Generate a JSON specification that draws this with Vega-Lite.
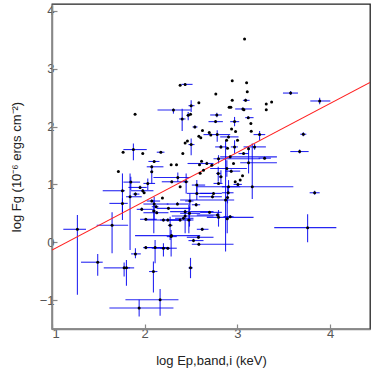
{
  "$schema": "https://vega.github.io/schema/vega-lite/v6.json",
  "width": 318,
  "height": 325,
  "autosize": {"type": "none"},
  "padding": {"left": 52, "top": 4, "right": 4, "bottom": 45},
  "background": "white",
  "config": {
    "view": {"stroke": "#222", "strokeWidth": 1.3},
    "axis": {
      "grid": false,
      "domainColor": "#888",
      "domainWidth": 1.5,
      "tickColor": "#888",
      "tickWidth": 1.2,
      "tickSize": -5,
      "format": "d",
      "labelFont": "Liberation Sans",
      "labelFontSize": 13,
      "labelColor": "#555",
      "labelPadding": 3,
      "titleFont": "Liberation Sans",
      "titleFontSize": 13,
      "titleFontWeight": "normal",
      "titleColor": "#222"
    }
  },
  "datasets": {
    "err": [
      {"x":1.274,"y":0.224,"xlo":1.122,"xhi":1.367,"ylo":-0.908,"yhi":0.471},
      {"x":1.493,"y":-0.345,"xlo":1.313,"xhi":1.547,"ylo":-0.58,"yhi":-0.201},
      {"x":1.648,"y":0.293,"xlo":1.482,"xhi":1.821,"ylo":-0.19,"yhi":0.517},
      {"x":1.778,"y":-0.443,"xlo":1.558,"xhi":1.886,"ylo":-0.592,"yhi":-0.351},
      {"x":1.803,"y":-0.443,"xlo":1.77,"xhi":1.842,"ylo":-0.753,"yhi":-0.305},
      {"x":1.9,"y":-0.201,"xlo":1.853,"xhi":1.958,"ylo":-0.276,"yhi":-0.103},
      {"x":2.094,"y":-0.506,"xlo":2.047,"xhi":2.137,"ylo":-0.868,"yhi":-0.333},
      {"x":1.94,"y":-1.138,"xlo":1.619,"xhi":2.31,"ylo":-1.282,"yhi":-0.994},
      {"x":2.166,"y":-0.994,"xlo":1.792,"xhi":2.364,"ylo":-1.27,"yhi":-0.81},
      {"x":2.494,"y":-0.443,"xlo":2.472,"xhi":2.519,"ylo":-0.621,"yhi":-0.27},
      {"x":3.757,"y":0.253,"xlo":3.397,"xhi":4.067,"ylo":0.0,"yhi":0.483},
      {"x":3.833,"y":0.856,"xlo":3.779,"xhi":3.887,"ylo":0.822,"yhi":0.891},
      {"x":3.574,"y":2.58,"xlo":3.491,"xhi":3.653,"ylo":2.546,"yhi":2.615},
      {"x":3.887,"y":2.443,"xlo":3.786,"xhi":4.002,"ylo":2.385,"yhi":2.5},
      {"x":3.711,"y":1.868,"xlo":3.678,"xhi":3.743,"ylo":1.834,"yhi":1.902},
      {"x":3.671,"y":1.569,"xlo":3.57,"xhi":3.768,"ylo":1.534,"yhi":1.603},
      {"x":3.293,"y":1.454,"xlo":3.228,"xhi":3.361,"ylo":1.43,"yhi":1.48},
      {"x":3.239,"y":1.862,"xlo":3.174,"xhi":3.3,"ylo":1.764,"yhi":1.925},
      {"x":3.185,"y":1.649,"xlo":3.066,"xhi":3.307,"ylo":1.6,"yhi":1.7},
      {"x":3.12,"y":1.374,"xlo":3.03,"xhi":3.426,"ylo":1.19,"yhi":1.649},
      {"x":3.16,"y":0.96,"xlo":2.562,"xhi":3.603,"ylo":0.747,"yhi":1.707},
      {"x":2.872,"y":0.73,"xlo":2.382,"xhi":2.965,"ylo":-0.161,"yhi":1.764},
      {"x":2.436,"y":2.73,"xlo":2.396,"xhi":2.516,"ylo":2.71,"yhi":2.75},
      {"x":3.088,"y":2.454,"xlo":3.059,"xhi":3.131,"ylo":2.43,"yhi":2.48},
      {"x":2.501,"y":2.362,"xlo":2.472,"xhi":2.537,"ylo":2.253,"yhi":2.454},
      {"x":2.31,"y":2.287,"xlo":2.138,"xhi":2.497,"ylo":2.224,"yhi":2.31},
      {"x":2.404,"y":2.132,"xlo":2.371,"xhi":2.44,"ylo":1.925,"yhi":2.31},
      {"x":2.469,"y":2.195,"xlo":2.45,"xhi":2.49,"ylo":2.109,"yhi":2.253},
      {"x":3.059,"y":2.305,"xlo":2.976,"xhi":3.156,"ylo":2.28,"yhi":2.33},
      {"x":2.778,"y":2.201,"xlo":2.706,"xhi":2.832,"ylo":2.16,"yhi":2.24},
      {"x":3.117,"y":2.155,"xlo":3.084,"xhi":3.174,"ylo":2.13,"yhi":2.18},
      {"x":2.764,"y":2.086,"xlo":2.688,"xhi":2.843,"ylo":2.06,"yhi":2.11},
      {"x":2.969,"y":2.086,"xlo":2.922,"xhi":3.019,"ylo":2.006,"yhi":2.167},
      {"x":2.541,"y":1.994,"xlo":2.516,"xhi":2.569,"ylo":1.97,"yhi":2.02},
      {"x":2.782,"y":1.862,"xlo":2.634,"xhi":2.922,"ylo":1.736,"yhi":1.937},
      {"x":2.904,"y":1.822,"xlo":2.814,"xhi":3.012,"ylo":1.8,"yhi":1.85},
      {"x":2.501,"y":1.69,"xlo":2.472,"xhi":2.537,"ylo":1.506,"yhi":1.793},
      {"x":1.878,"y":1.603,"xlo":1.77,"xhi":2.022,"ylo":1.42,"yhi":1.707},
      {"x":2.174,"y":1.557,"xlo":2.13,"xhi":2.213,"ylo":1.54,"yhi":1.58},
      {"x":2.822,"y":1.649,"xlo":2.76,"xhi":2.886,"ylo":1.62,"yhi":1.68},
      {"x":2.969,"y":1.649,"xlo":2.929,"xhi":3.005,"ylo":1.534,"yhi":1.764},
      {"x":3.066,"y":1.534,"xlo":3.012,"xhi":3.12,"ylo":1.51,"yhi":1.56},
      {"x":2.102,"y":1.397,"xlo":2.04,"xhi":2.159,"ylo":1.37,"yhi":1.42},
      {"x":2.076,"y":1.305,"xlo":2.022,"xhi":2.202,"ylo":1.28,"yhi":1.33},
      {"x":2.076,"y":1.218,"xlo":2.06,"xhi":2.09,"ylo":1.017,"yhi":1.305},
      {"x":2.67,"y":1.362,"xlo":2.462,"xhi":2.742,"ylo":1.34,"yhi":1.39},
      {"x":2.796,"y":1.443,"xlo":2.742,"xhi":3.246,"ylo":1.362,"yhi":1.506},
      {"x":2.922,"y":1.477,"xlo":2.814,"xhi":3.426,"ylo":1.45,"yhi":1.5},
      {"x":2.886,"y":1.276,"xlo":2.706,"xhi":3.102,"ylo":1.132,"yhi":1.42},
      {"x":2.793,"y":1.19,"xlo":2.77,"xhi":2.82,"ylo":1.046,"yhi":1.305},
      {"x":2.933,"y":1.23,"xlo":2.868,"xhi":3.03,"ylo":1.2,"yhi":1.26},
      {"x":2.822,"y":1.132,"xlo":2.8,"xhi":2.84,"ylo":1.017,"yhi":1.247},
      {"x":2.357,"y":1.121,"xlo":2.094,"xhi":2.49,"ylo":1.046,"yhi":1.207},
      {"x":2.292,"y":1.046,"xlo":2.184,"xhi":2.454,"ylo":1.02,"yhi":1.07},
      {"x":2.447,"y":1.046,"xlo":2.42,"xhi":2.47,"ylo":0.845,"yhi":1.19},
      {"x":2.562,"y":0.989,"xlo":2.508,"xhi":2.652,"ylo":0.845,"yhi":1.075},
      {"x":2.796,"y":1.017,"xlo":2.742,"xhi":2.839,"ylo":0.99,"yhi":1.04},
      {"x":3.005,"y":1.0,"xlo":2.958,"xhi":3.048,"ylo":0.97,"yhi":1.03},
      {"x":1.85,"y":1.04,"xlo":1.77,"xhi":1.95,"ylo":0.902,"yhi":1.132},
      {"x":2.033,"y":1.017,"xlo":1.986,"xhi":2.112,"ylo":0.902,"yhi":1.103},
      {"x":1.95,"y":0.948,"xlo":1.824,"xhi":2.022,"ylo":0.92,"yhi":0.98},
      {"x":1.979,"y":0.891,"xlo":1.85,"xhi":2.094,"ylo":0.86,"yhi":0.92},
      {"x":1.76,"y":0.891,"xlo":1.547,"xhi":1.788,"ylo":0.385,"yhi":1.19},
      {"x":1.842,"y":0.787,"xlo":1.799,"xhi":1.968,"ylo":-0.132,"yhi":1.19},
      {"x":1.9,"y":0.833,"xlo":1.871,"xhi":1.943,"ylo":0.8,"yhi":0.86},
      {"x":2.076,"y":0.713,"xlo":2.022,"xhi":2.166,"ylo":0.69,"yhi":0.74},
      {"x":2.102,"y":0.661,"xlo":1.986,"xhi":2.256,"ylo":0.385,"yhi":0.787},
      {"x":1.76,"y":0.672,"xlo":1.619,"xhi":1.817,"ylo":0.5,"yhi":0.76},
      {"x":2.562,"y":0.845,"xlo":2.454,"xhi":2.742,"ylo":0.73,"yhi":0.96},
      {"x":2.742,"y":0.845,"xlo":2.598,"xhi":2.832,"ylo":0.82,"yhi":0.87},
      {"x":2.901,"y":0.856,"xlo":2.832,"xhi":2.958,"ylo":0.83,"yhi":0.88},
      {"x":2.904,"y":0.96,"xlo":2.832,"xhi":3.03,"ylo":0.845,"yhi":1.075},
      {"x":2.731,"y":0.787,"xlo":2.584,"xhi":2.832,"ylo":0.76,"yhi":0.81},
      {"x":2.893,"y":0.776,"xlo":2.87,"xhi":2.91,"ylo":0.672,"yhi":0.96},
      {"x":2.487,"y":0.713,"xlo":2.436,"xhi":2.526,"ylo":0.557,"yhi":0.845},
      {"x":2.555,"y":0.649,"xlo":2.508,"xhi":2.598,"ylo":0.62,"yhi":0.68},
      {"x":1.968,"y":0.569,"xlo":1.914,"xhi":2.094,"ylo":0.54,"yhi":0.6},
      {"x":2.123,"y":0.615,"xlo":2.076,"xhi":2.148,"ylo":0.59,"yhi":0.64},
      {"x":2.13,"y":0.511,"xlo":1.986,"xhi":2.256,"ylo":0.49,"yhi":0.54},
      {"x":2.098,"y":0.54,"xlo":2.08,"xhi":2.12,"ylo":0.155,"yhi":0.73},
      {"x":2.353,"y":0.661,"xlo":2.238,"xhi":2.49,"ylo":0.64,"yhi":0.69},
      {"x":2.256,"y":0.586,"xlo":2.13,"xhi":2.49,"ylo":0.56,"yhi":0.61},
      {"x":2.436,"y":0.529,"xlo":2.274,"xhi":2.742,"ylo":0.5,"yhi":0.56},
      {"x":2.483,"y":0.5,"xlo":2.382,"xhi":2.598,"ylo":0.27,"yhi":0.615},
      {"x":2.699,"y":0.517,"xlo":2.598,"xhi":2.832,"ylo":0.49,"yhi":0.54},
      {"x":2.785,"y":0.471,"xlo":2.562,"xhi":2.814,"ylo":0.45,"yhi":0.5},
      {"x":2.796,"y":0.431,"xlo":2.67,"xhi":3.174,"ylo":0.27,"yhi":0.557},
      {"x":2.922,"y":0.443,"xlo":2.85,"xhi":2.958,"ylo":0.42,"yhi":0.47},
      {"x":2.89,"y":0.408,"xlo":2.87,"xhi":2.91,"ylo":0.155,"yhi":0.73},
      {"x":2.436,"y":0.454,"xlo":2.292,"xhi":2.742,"ylo":0.155,"yhi":0.557},
      {"x":2.418,"y":0.414,"xlo":2.328,"xhi":2.526,"ylo":0.39,"yhi":0.44},
      {"x":2.382,"y":0.385,"xlo":2.238,"xhi":2.526,"ylo":0.36,"yhi":0.41},
      {"x":2.476,"y":0.385,"xlo":2.45,"xhi":2.5,"ylo":0.155,"yhi":0.644},
      {"x":2.202,"y":0.385,"xlo":2.022,"xhi":2.382,"ylo":0.36,"yhi":0.41},
      {"x":2.249,"y":0.385,"xlo":2.166,"xhi":2.382,"ylo":0.36,"yhi":0.41},
      {"x":2.012,"y":0.397,"xlo":1.95,"xhi":2.13,"ylo":0.37,"yhi":0.42},
      {"x":2.274,"y":0.293,"xlo":2.25,"xhi":2.3,"ylo":0.04,"yhi":0.443},
      {"x":2.285,"y":0.098,"xlo":2.238,"xhi":2.346,"ylo":-0.247,"yhi":0.213},
      {"x":2.62,"y":0.224,"xlo":2.562,"xhi":2.688,"ylo":0.2,"yhi":0.25},
      {"x":2.526,"y":0.029,"xlo":2.472,"xhi":2.634,"ylo":0.0,"yhi":0.06},
      {"x":2.58,"y":0.086,"xlo":2.454,"xhi":2.742,"ylo":0.06,"yhi":0.11},
      {"x":2.584,"y":-0.034,"xlo":2.508,"xhi":2.958,"ylo":-0.06,"yhi":-0.01},
      {"x":2.289,"y":0.115,"xlo":1.896,"xhi":2.598,"ylo":0.09,"yhi":0.14},
      {"x":2.012,"y":-0.092,"xlo":1.986,"xhi":2.238,"ylo":-0.12,"yhi":-0.07},
      {"x":2.112,"y":-0.092,"xlo":1.986,"xhi":2.238,"ylo":-0.362,"yhi":0.04},
      {"x":2.202,"y":-0.103,"xlo":2.076,"xhi":2.346,"ylo":-0.247,"yhi":-0.017},
      {"x":2.249,"y":-0.103,"xlo":2.166,"xhi":2.274,"ylo":-0.13,"yhi":-0.08}
    ],
    "dots": [
      {"x":3.077,"y":3.514},{"x":2.944,"y":2.793},{"x":3.099,"y":2.759},{"x":2.382,"y":2.713},
      {"x":3.106,"y":2.603},{"x":2.767,"y":2.563},{"x":2.944,"y":2.454},{"x":3.311,"y":2.391},
      {"x":3.369,"y":2.425},{"x":3.311,"y":2.293},{"x":1.896,"y":2.213},{"x":2.584,"y":2.414},
      {"x":2.911,"y":2.333},{"x":2.929,"y":2.333},{"x":3.07,"y":2.293},{"x":2.494,"y":2.213},
      {"x":3.145,"y":2.052},{"x":2.623,"y":1.931},{"x":2.937,"y":1.96},{"x":2.98,"y":1.914},
      {"x":2.696,"y":1.897},{"x":2.713,"y":1.856},{"x":2.584,"y":1.833},{"x":2.605,"y":1.805},
      {"x":3.149,"y":1.92},{"x":3.001,"y":1.764},{"x":2.436,"y":1.718},{"x":2.461,"y":1.753},
      {"x":2.883,"y":1.764},{"x":1.767,"y":1.557},{"x":1.979,"y":1.534},{"x":2.411,"y":1.534},
      {"x":2.893,"y":1.626},{"x":3.12,"y":1.615},{"x":1.716,"y":1.224},{"x":2.285,"y":1.339},
      {"x":2.343,"y":1.339},{"x":2.591,"y":1.339},{"x":2.613,"y":1.402},{"x":2.634,"y":1.247},
      {"x":3.055,"y":1.149},{"x":2.598,"y":1.195},{"x":2.382,"y":0.96},{"x":2.976,"y":1.046},
      {"x":1.994,"y":0.856},{"x":2.191,"y":0.764},{"x":3.03,"y":1.075},{"x":2.724,"y":1.333},
      {"x":2.958,"y":1.362}
    ],
    "fit": [{"x": 1.0, "y": -0.135}, {"x": 4.43, "y": 2.763}]
  },
  "layer": [
    {
      "data": {"name": "err"},
      "mark": {"type": "rule", "color": "#0000f0", "opacity": 0.85, "strokeWidth": 1.1},
      "encoding": {
        "x": {"field": "xlo", "type": "quantitative",
              "scale": {"domain": [1, 4.43], "nice": false, "zero": false},
              "axis": {"values": [1, 2, 3, 4], "title": "log Ep,band,i (keV)", "titlePadding": 14}},
        "x2": {"field": "xhi"},
        "y": {"field": "y", "type": "quantitative",
              "scale": {"domain": [-1.5, 4.12], "nice": false, "zero": false},
              "axis": {"values": [-1, 0, 1, 2, 3, 4], "title": "log Fg (10⁻⁶ ergs cm⁻²)", "titlePadding": 16}}
      }
    },
    {
      "data": {"name": "err"},
      "mark": {"type": "rule", "color": "#0000f0", "opacity": 0.85, "strokeWidth": 1.1},
      "encoding": {
        "x": {"field": "x", "type": "quantitative"},
        "y": {"field": "ylo", "type": "quantitative"},
        "y2": {"field": "yhi"}
      }
    },
    {
      "data": {"name": "fit"},
      "mark": {"type": "line", "color": "#ff2020", "strokeWidth": 1.1, "clip": true},
      "encoding": {
        "x": {"field": "x", "type": "quantitative"},
        "y": {"field": "y", "type": "quantitative"}
      }
    },
    {
      "data": {"name": "err"},
      "mark": {"type": "circle", "color": "black", "opacity": 1, "size": 9},
      "encoding": {
        "x": {"field": "x", "type": "quantitative"},
        "y": {"field": "y", "type": "quantitative"}
      }
    },
    {
      "data": {"name": "dots"},
      "mark": {"type": "circle", "color": "black", "opacity": 1, "size": 9},
      "encoding": {
        "x": {"field": "x", "type": "quantitative"},
        "y": {"field": "y", "type": "quantitative"}
      }
    }
  ]
}
